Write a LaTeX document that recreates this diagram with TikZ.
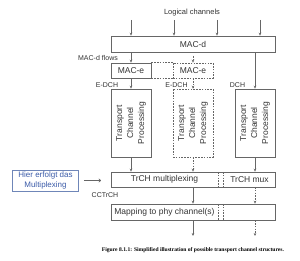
\documentclass[tikz,border=0pt]{standalone}
\usepackage{fontspec}
\setmainfont{Liberation Sans}
\newfontfamily\capfont{Liberation Serif}
\usetikzlibrary{arrows.meta}
\definecolor{ln}{HTML}{666666}
\definecolor{tx}{HTML}{333333}
\definecolor{hb}{HTML}{3B5BA8}
\definecolor{hbd}{HTML}{6F86B8}
\begin{document}
\begin{tikzpicture}[x=1pt,y=-1pt,
 box/.style={draw=ln,line width=0.6pt,inner sep=0pt,text=tx,font=\fontsize{8.5}{10}\selectfont},
 dbox/.style={box,dash pattern=on 1.6pt off 1.2pt},
 lbl/.style={inner sep=0pt,text=tx,font=\fontsize{7}{8}\selectfont},
 rlbl/.style={inner sep=0pt,text=tx,rotate=90,align=center,font=\fontsize{8.5}{11}\selectfont},
 arr/.style={draw=ln,line width=0.6pt,-{Stealth[length=3pt,width=2.6pt]}},
 darr/.style={arr,dash pattern=on 1.6pt off 1.2pt},
 dline/.style={draw=ln,line width=0.6pt,dash pattern=on 1.6pt off 1.2pt}
]
\useasboundingbox (0,0) rectangle (300,261);
% top
\node[lbl,font=\fontsize{7.5}{9}\selectfont] (lc) at (192,13) {Logical channels};
\node[box,minimum width=164pt,minimum height=16pt] (macd) at (193,44) {MAC-d};
\foreach \i/\x in {1/131,2/174,3/217,4/260}{
  \coordinate (lt\i) at (\x,20);
  \draw[arr] (lt\i) -- (lt\i |- macd.north);
}
\node[lbl] (flows) at (98,58) {MAC-d flows};
% MAC-e
\node[box,minimum width=40pt,minimum height=15pt] (macea) at (131,70.5) {MAC-e};
\node[dbox,minimum width=40pt,minimum height=15pt] (maceb) at (193,70.5) {MAC-e};
\draw[dline] (macea.north east) -- (maceb.north west);
\draw[dline] (macea.south east) -- (maceb.south west);
\draw[arr] (macea.north |- macd.south) -- (macea.north);
\coordinate (mbtop) at (193,56);
\draw[darr] (mbtop) -- (maceb.north);
% labels
\node[lbl] (edch1) at (107,85) {E-DCH};
\node[lbl] (edch2) at (176.5,85) {E-DCH};
\node[lbl] (dch) at (237.5,85) {DCH};
% transport channel processing
\node[box,minimum width=40pt,minimum height=68pt] (tcp1) at (131,123) {};
\node[dbox,minimum width=40pt,minimum height=68pt] (tcp2) at (193,123) {};
\node[box,minimum width=40pt,minimum height=68pt] (tcp3) at (255,123) {};
\node[rlbl] (t1) at (tcp1) {Transport\\Channel\\Processing};
\node[rlbl] (t2) at (tcp2) {Transport\\Channel\\Processing};
\node[rlbl] (t3) at (tcp3) {Transport\\Channel\\Processing};
\draw[arr] (macea) -- (tcp1);
\draw[darr] (maceb) -- (tcp2);
\draw[arr] (tcp3.north |- macd.south) -- (tcp3.north);
% TrCH
\node[box,minimum width=164pt,minimum height=15pt] (trch) at (193,179.5) {};
\node[inner sep=0pt,text=tx,font=\fontsize{8.5}{10}\selectfont] (trm) at (164.5,179.5) {TrCH multiplexing};
\node[inner sep=0pt,text=tx,font=\fontsize{8.5}{10}\selectfont] (trx) at (249.5,179.5) {TrCH mux};
\draw[dline] (218,172) coordinate (d1a) -- (d1a |- trch.south);
\draw[dline] (223,172) coordinate (d2a) -- (d2a |- trch.south);
\draw[arr] (tcp1) -- (tcp1.south |- trch.north);
\draw[darr] (tcp2) -- (tcp2.south |- trch.north);
\draw[arr] (tcp3) -- (tcp3.south |- trch.north);
\node[lbl] (cct) at (105,195) {CCTrCH};
% mapping
\node[box,minimum width=164pt,minimum height=16pt] (map) at (193,212) {};
\node[inner sep=0pt,text=tx,font=\fontsize{8.5}{10}\selectfont] (mapt) at (164.5,212) {Mapping to phy channel(s)};
\draw[dline] (218,204) coordinate (d3a) -- (d3a |- map.south);
\draw[dline] (223,204) coordinate (d4a) -- (d4a |- map.south);
\draw[arr] (193,187) coordinate (ma) -- (ma |- map.north);
\draw[darr] (255,187) coordinate (mb) -- (mb |- map.north);
\coordinate (o1) at (193,236);
\coordinate (o2) at (255,236);
\draw[arr] (o1 |- map.south) -- (o1);
\draw[darr] (o2 |- map.south) -- (o2);
% annotation
\node[draw=hbd,line width=0.6pt,minimum width=66pt,minimum height=21pt,inner sep=0pt,align=center,text=hb,font=\fontsize{8}{9.5}\selectfont] (hier) at (45.5,180.5) {Hier erfolgt das\\Multiplexing};
\coordinate (ha) at (101,180.5);
\draw[draw=ln,line width=0.6pt,-{To[length=2.5pt,width=4pt]}] ([xshift=5pt]hier.east) -- (ha);
% caption
\node[inner sep=0pt,text=black,font=\capfont\bfseries\fontsize{5.6}{7}\selectfont] (cap) at (193,250) {Figure 8.1.1: Simplified illustration of possible transport channel structures.};
\end{tikzpicture}
\end{document}
